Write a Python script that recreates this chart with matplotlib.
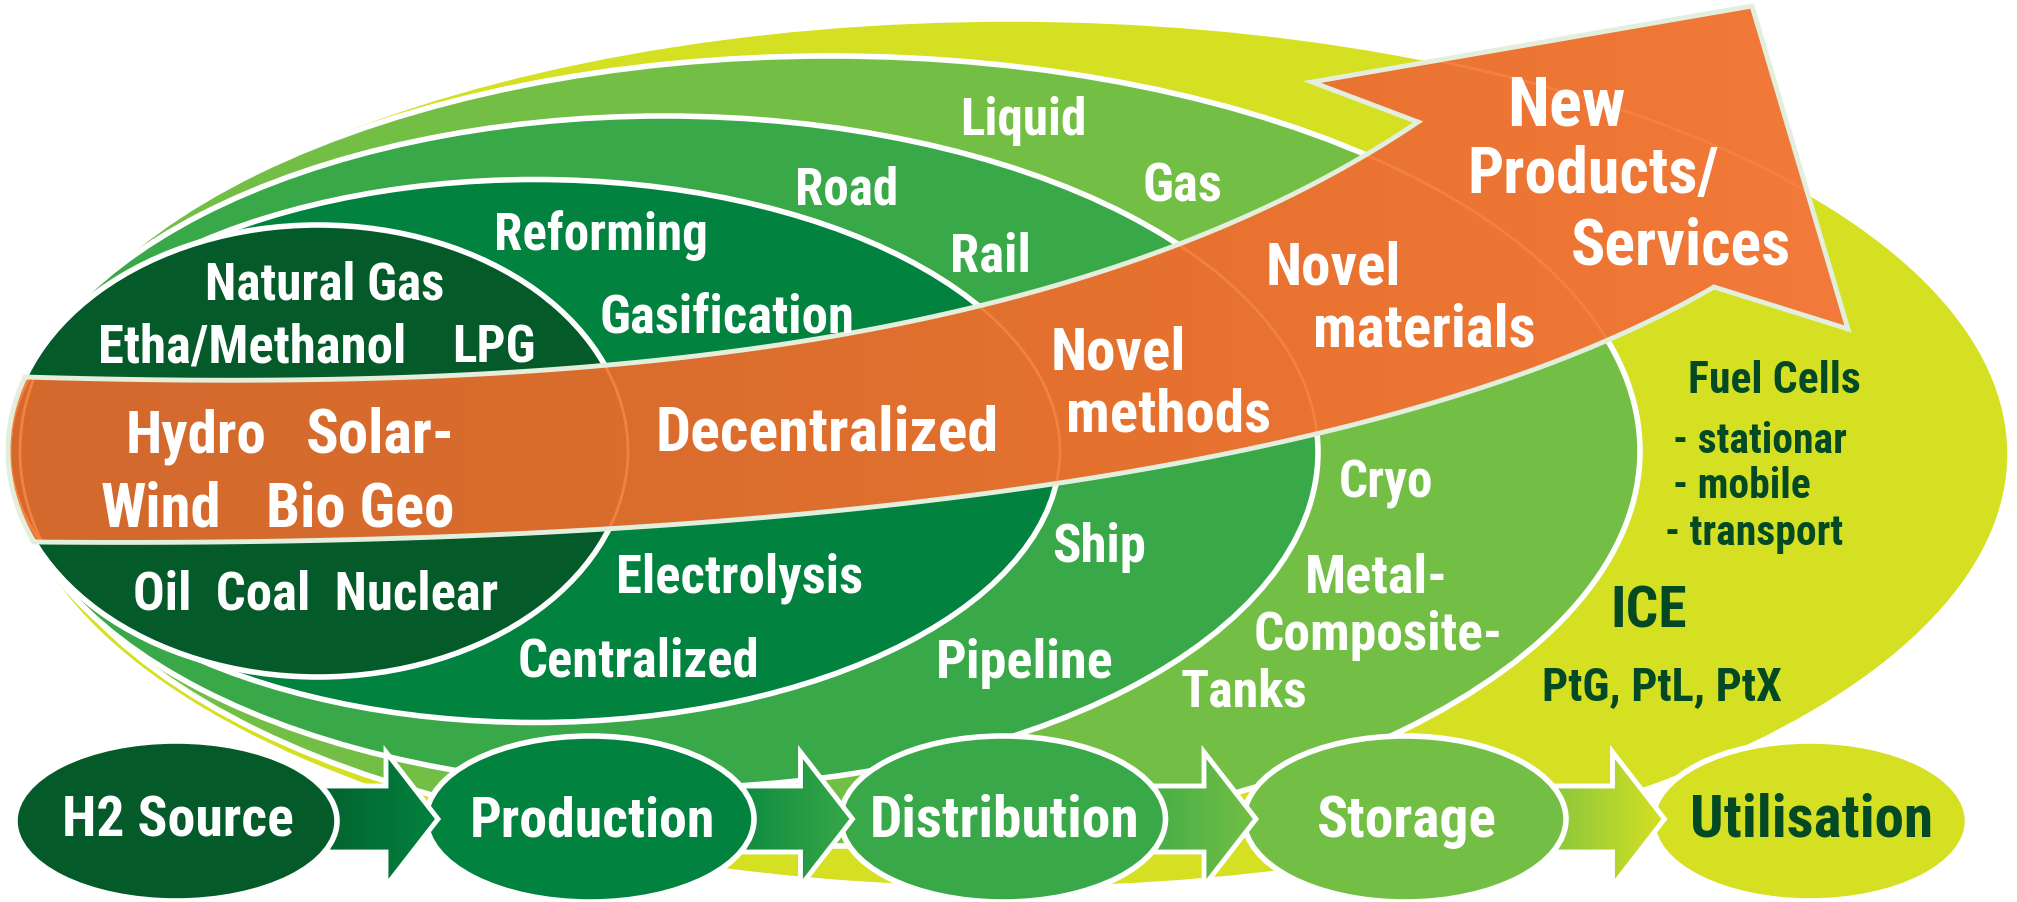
import numpy as np
import matplotlib
matplotlib.use('Agg')
import matplotlib.pyplot as plt
from matplotlib import font_manager
from matplotlib.patches import Ellipse, Polygon
from matplotlib.colors import LinearSegmentedColormap

# the original uses a condensed bold face; take one if it is installed
entries = [(f.name, f.stretch) for f in font_manager.fontManager.ttflist]
font_family, font_stretch, size_k = 'Liberation Sans', 'normal', 1.0
for name, stretch, k in [('Liberation Sans Narrow', None, 1.12),
                         ('Roboto Condensed', None, 1.15),
                         ('Noto Sans Condensed', None, 1.1),
                         ('Noto Sans', 'condensed', 1.1),
                         ('Open Sans Condensed', None, 1.1)]:
    if any(n == name and (stretch is None or s == stretch) for n, s in entries):
        font_family, font_stretch, size_k = name, stretch or 'normal', k
        break
plt.rcParams['font.family'] = [font_family, 'Liberation Sans', 'DejaVu Sans']

# hydrogen value chain, inner ring first
stages = ['H2 Source', 'Production', 'Distribution', 'Storage', 'Utilisation']
stage_colors = ['#045a29', '#01823f', '#38a848', '#73bf45', '#d5e022']
label_colors = ['white', 'white', 'white', 'white', '#034a24']

source_labels = ['Natural Gas', 'Etha/Methanol', 'LPG', 'Hydro', 'Solar-',
                 'Wind', 'Bio Geo', 'Oil  Coal  Nuclear']
production_labels = ['Reforming', 'Gasification', 'Decentralized',
                     'Electrolysis', 'Centralized']
distribution_labels = ['Road', 'Rail', 'Novel', 'methods', 'Ship', 'Pipeline']
storage_labels = ['Liquid', 'Gas', 'Novel', 'materials', 'Cryo', 'Metal-',
                  'Composite-', 'Tanks']
arrow_labels = ['New', 'Products/', 'Services']
use_labels = ['Fuel Cells', '- stationar', '- mobile', '- transport', 'ICE',
              'PtG, PtL, PtX']

# layout (pixel coords, y down)
source_pos = [(325, 300), (252, 363), (494, 363), (196, 453), (380, 453),
              (161, 527), (360, 527), (316, 610)]
source_fs = [32, 33, 32, 37, 38, 38, 38, 33]
production_pos = [(601, 250), (727, 333), (827, 451), (740, 593), (639, 677)]
production_fs = [32, 33, 39, 33, 33]
distribution_pos = [(847, 205), (990, 272), (1118, 370), (1169, 432),
                    (1099, 562), (1025, 678)]
distribution_fs = [32, 33, 37, 37, 33, 34]
storage_pos = [(1023, 135), (1182, 202), (1333, 285), (1424, 347),
               (1386, 498), (1376, 593), (1378, 650), (1244, 707)]
storage_fs = [32, 33, 37, 37, 32, 34, 33.5, 32.5]
arrow_pos = [(1566, 125), (1593, 193), (1681, 265)]
arrow_fs = [43, 40, 40]
use_pos = [(1774, 393), (1673, 453), (1673, 498), (1665, 545), (1649, 628),
           (1662, 700)]
use_fs = [27.5, 26, 26, 26, 36, 29]
use_ha = ['center', 'left', 'left', 'left', 'center', 'center']
stage_fs = [35, 35, 36, 36, 37]

rings = [(318, 452, 620, 452), (535, 452, 1050, 543), (664, 453, 1308, 672),
         (830, 452, 1620, 790), (1010, 455, 2000, 870)]
bubbles = [(176, 822, 322, 160), (590, 820, 328, 166), (1003, 820, 325, 166),
           (1405, 820, 322, 166), (1810, 822, 315, 160)]


def bezier(p0, p1, p2, p3, n=120):
    t = np.linspace(0, 1, n)[:, None]
    p0, p1, p2, p3 = map(np.array, (p0, p1, p2, p3))
    return ((1 - t) ** 3 * p0 + 3 * (1 - t) ** 2 * t * p1
            + 3 * (1 - t) * t ** 2 * p2 + t ** 3 * p3)


def label(x, y, s, size, color, ha='center', z=30):
    ax.text(x, y, s, ha=ha, va='baseline', fontsize=size * size_k,
            fontweight='bold', fontstretch=font_stretch, color=color, zorder=z)


fig = plt.figure(figsize=(20.17, 9.03), dpi=100)
ax = fig.add_axes([0, 0, 1, 1])
ax.set_xlim(0, 2017)
ax.set_ylim(903, 0)
ax.axis('off')

# nested rings, outer first
for i in range(4, -1, -1):
    cx, cy, w, h = rings[i]
    ax.add_patch(Ellipse((cx, cy), w, h, fc=stage_colors[i], ec='white',
                         lw=4, zorder=5 - i))

# orange band sweeping into the arrow
top = bezier((25, 378), (500, 392), (1050, 370), (1418, 123))
head = np.array([(1312, 83), (1752, 7), (1848, 330)])
bottom = bezier((1714, 288), (1400, 470), (800, 550), (34, 543))
th = np.radians(np.linspace(156, 199, 40))
arc = np.column_stack([318 + 310 * np.cos(th), 452 + 226 * np.sin(th)])
verts = np.vstack([top, head, bottom, arc])

band = Polygon(verts, closed=True, fc='none', ec='none', zorder=6)
ax.add_patch(band)
band_cmap = LinearSegmentedColormap.from_list(
    'band', ['#d3692d', '#d96d2e', '#e8722f', '#f27a3a'])
im = ax.imshow(np.linspace(0, 1, 256)[None, :], extent=(0, 1850, 903, 0),
               cmap=band_cmap, aspect='auto', zorder=6, interpolation='bilinear')
im.set_clip_path(band)
for cx, cy, w, h in rings:
    e = Ellipse((cx, cy), w, h, fill=False, ec='#f4823f', lw=2, zorder=7)
    ax.add_patch(e)
    e.set_clip_path(band)
ax.add_patch(Polygon(verts, closed=True, fill=False, ec='#e3eedd', lw=3.5,
                     zorder=8))

# bottom chain: bubbles and arrows
for i in range(4, -1, -1):
    cx, cy, w, h = bubbles[i]
    z = 10 + 2 * (4 - i)
    ax.add_patch(Ellipse((cx, cy), w, h, fc=stage_colors[i], ec='white',
                         lw=4, zorder=z))
    label(cx + 2, 837, stages[i], stage_fs[i], label_colors[i], z=z + 0.5)
    if i < 4:
        nx, ny, nw, nh = bubbles[i + 1]
        x0 = cx + 0.35 * w
        tip = nx - nw / 2 + 12
        hb = tip - 52
        ay = 820
        pts = [(x0, ay - 33), (hb, ay - 33), (hb, ay - 67), (tip, ay),
               (hb, ay + 67), (hb, ay + 33), (x0, ay + 33)]
        arr = Polygon(pts, closed=True, fc='none', ec='none', zorder=z - 1)
        ax.add_patch(arr)
        cm = LinearSegmentedColormap.from_list(
            'a%d' % i, [stage_colors[i], stage_colors[i + 1]])
        gi = ax.imshow(np.linspace(0, 1, 64)[None, :],
                       extent=(x0, tip, ay + 70, ay - 70), cmap=cm,
                       aspect='auto', zorder=z - 1, interpolation='bilinear')
        gi.set_clip_path(arr)
        ax.add_patch(Polygon(pts, closed=True, fill=False, ec='white', lw=3.5,
                             zorder=z - 0.9))

# ring labels
groups = [(source_labels, source_pos, source_fs),
          (production_labels, production_pos, production_fs),
          (distribution_labels, distribution_pos, distribution_fs),
          (storage_labels, storage_pos, storage_fs),
          (arrow_labels, arrow_pos, arrow_fs)]
for labels, pos, fs in groups:
    for s, (x, y), f in zip(labels, pos, fs):
        label(x, y, s, f, 'white')
for s, (x, y), f, ha in zip(use_labels, use_pos, use_fs, use_ha):
    label(x, y, s, f, '#034a24', ha=ha)

ax.set_xlim(0, 2017)
ax.set_ylim(903, 0)
fig.savefig('out.png', dpi=100)
